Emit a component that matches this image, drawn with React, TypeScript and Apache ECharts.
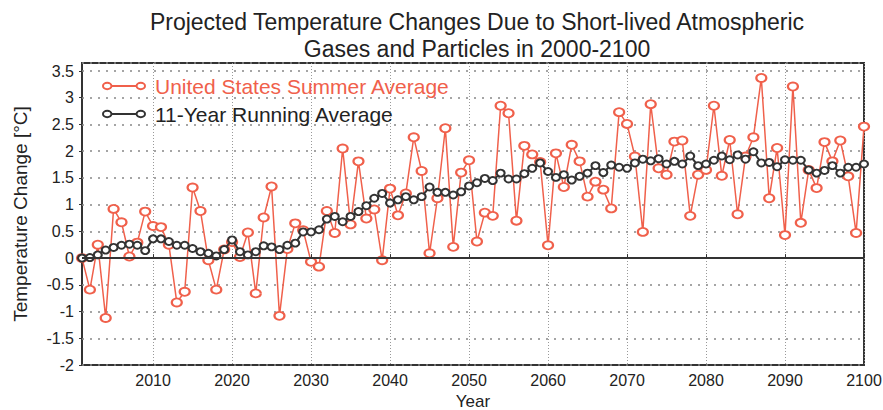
import React, { useEffect, useRef } from "react";
import * as echarts from "echarts";

const years: string[] = [];
for (let y = 2001; y <= 2100; y++) years.push(String(y));

const summerAverage = [
  0.0, -0.59, 0.25, -1.12, 0.92, 0.67, 0.03, 0.29, 0.87, 0.6,
  0.58, 0.25, -0.83, -0.63, 1.32, 0.88, -0.04, -0.59, 0.16, 0.3,
  0.02, 0.48, -0.66, 0.76, 1.34, -1.08, 0.17, 0.65, 0.52, -0.07,
  -0.16, 0.88, 0.47, 2.05, 0.63, 1.81, 0.74, 0.91, -0.04, 1.3,
  0.8, 1.21, 2.26, 1.63, 0.09, 1.12, 2.43, 0.21, 1.6, 1.83,
  0.31, 0.85, 0.79, 2.85, 2.71, 0.7, 2.1, 1.94, 1.8, 0.24,
  1.96, 1.33, 2.12, 1.81, 1.15, 1.43, 1.28, 0.93, 2.73, 2.51,
  1.9, 0.49, 2.88, 1.68, 1.56, 2.18, 2.2, 0.79, 1.56, 1.65,
  2.85, 1.54, 2.21, 0.82, 1.9, 2.26, 3.37, 1.12, 2.06, 0.43,
  3.21, 0.66, 1.65, 1.31, 2.17, 1.81, 2.2, 1.53, 0.47, 2.46,
];

const runningAverage = [
  0.0, 0.01, 0.06, 0.15, 0.2, 0.24, 0.26, 0.24, 0.14, 0.36,
  0.36, 0.31, 0.24, 0.24, 0.18, 0.12, 0.09, 0.04, 0.16, 0.34,
  0.12, 0.06, 0.12, 0.23, 0.21, 0.16, 0.24, 0.28, 0.49, 0.49,
  0.53, 0.73, 0.78, 0.68, 0.78, 0.87, 0.98, 1.12, 1.21, 1.03,
  1.09, 1.15, 1.09, 1.15, 1.33, 1.23, 1.23, 1.18, 1.24, 1.35,
  1.41, 1.49, 1.45, 1.59, 1.48, 1.48, 1.58, 1.68, 1.78, 1.62,
  1.51, 1.56, 1.46, 1.53, 1.59, 1.73, 1.6, 1.74, 1.7, 1.68,
  1.78, 1.85, 1.82, 1.86, 1.76, 1.81, 1.76, 1.91, 1.73, 1.76,
  1.83, 1.91, 1.84, 1.93, 1.85, 1.99, 1.78, 1.79, 1.71, 1.84,
  1.83, 1.83, 1.65, 1.59, 1.64, 1.73, 1.59, 1.7, 1.7, 1.76,
];

const seriesNames = ["United States Summer Average", "11-Year Running Average"];
const titleLines = [
  "Projected Temperature Changes Due to Short-lived Atmospheric",
  "Gases and Particles in 2000-2100",
];

const RED = "#f0604b";
const DARK = "#333333";
const FONT = "'Liberation Sans', Arial, sans-serif";

const isDecade = (_i: number, v: string) => Number(v) % 10 === 0;

export default function App() {
  const ref = useRef<HTMLDivElement>(null);
  useEffect(() => {
    if (!ref.current) return;
    const chart = echarts.init(ref.current, undefined, { renderer: "svg" });
    const legendIcon =
      "path://M1,5a4,3 0 1,0 8,0a4,3 0 1,0 -8,0M9,5L33,5M33,5a4,3 0 1,0 8,0a4,3 0 1,0 -8,0";
    chart.setOption({
      animation: false,
      backgroundColor: "#ffffff",
      textStyle: { fontFamily: FONT },
      title: {
        text: titleLines.join("\n"),
        left: 472,
        top: 3,
        textAlign: "center",
        textStyle: {
          fontFamily: FONT,
          fontSize: 23,
          fontWeight: "normal",
          color: "#222",
          lineHeight: 27,
        },
      },
      legend: {
        orient: "vertical",
        left: 97,
        top: 69,
        itemWidth: 42,
        itemHeight: 9,
        itemGap: 4,
        icon: legendIcon,
        textStyle: { fontFamily: FONT, fontSize: 21, lineHeight: 24, padding: [0, 0, 0, 5] },
        data: [
          {
            name: seriesNames[0],
            itemStyle: { color: "rgba(0,0,0,0)", borderColor: RED, borderWidth: 2 },
            textStyle: { color: RED },
          },
          {
            name: seriesNames[1],
            itemStyle: { color: "rgba(0,0,0,0)", borderColor: DARK, borderWidth: 2 },
            textStyle: { color: "#222" },
          },
        ],
      },
      grid: {
        left: 82,
        right: 19,
        top: 63,
        bottom: 45,
        outerBoundsMode: "none",
        show: true,
        borderColor: "#333",
        borderWidth: 2,
        backgroundColor: "transparent",
      },
      xAxis: {
        type: "category",
        data: years,
        boundaryGap: false,
        name: "Year",
        nameLocation: "middle",
        nameGap: 22,
        nameTextStyle: { fontFamily: FONT, fontSize: 17, color: "#222", lineHeight: 17 },
        axisLine: { show: false },
        axisTick: { show: true, inside: true, length: 4, interval: isDecade, lineStyle: { color: "#333" } },
        axisLabel: {
          interval: isDecade,
          fontFamily: FONT,
          fontSize: 16,
          color: "#222",
          margin: 7,
        },
        splitLine: {
          show: true,
          interval: isDecade,
          lineStyle: { color: "#999", type: [1, 2], width: 1 },
        },
      },
      yAxis: {
        type: "value",
        min: -2,
        max: 3.65,
        interval: 0.5,
        name: "Temperature Change [°C]",
        nameLocation: "middle",
        nameGap: 52,
        nameTextStyle: { fontFamily: FONT, fontSize: 19, color: "#222" },
        axisLine: { show: false },
        axisTick: { show: true, length: 3, lineStyle: { color: "#333" } },
        axisLabel: {
          showMaxLabel: false,
          fontFamily: FONT,
          fontSize: 16,
          color: "#222",
          margin: 8,
        },
        splitLine: {
          show: true,
          lineStyle: { color: "#888", type: [2, 6], width: 1.5 },
        },
      },
      series: [
        {
          name: seriesNames[0],
          type: "line",
          data: summerAverage,
          symbol: "emptyCircle",
          symbolSize: [10, 8],
          showAllSymbol: true,
          lineStyle: { color: RED, width: 1.5 },
          itemStyle: { color: RED, borderWidth: 1.5 },
          z: 2,
          markLine: {
            silent: true,
            symbol: "none",
            label: { show: false },
            lineStyle: { color: "#333", width: 2, type: "solid" },
            data: [{ yAxis: 0 }],
          },
        },
        {
          name: seriesNames[1],
          type: "line",
          data: runningAverage,
          symbol: "emptyCircle",
          symbolSize: [8, 7],
          showAllSymbol: true,
          lineStyle: { color: DARK, width: 2 },
          itemStyle: { color: DARK, borderWidth: 2 },
          z: 3,
        },
      ],
    });
    return () => chart.dispose();
  }, []);
  return <div ref={ref} style={{ width: 883, height: 410, position: "absolute", left: 0, top: 0 }} />;
}
